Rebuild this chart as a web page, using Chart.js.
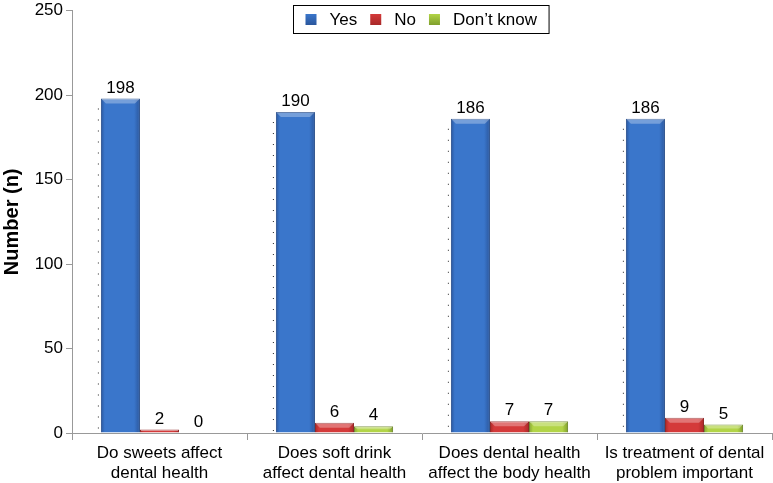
<!DOCTYPE html>
<html>
<head>
<meta charset="utf-8">
<script src="https://cdn.jsdelivr.net/npm/chart.js@4"></script>
<style>
  html, body { margin: 0; padding: 0; background: #fff; }
  #wrap { width: 773px; height: 483px; }
</style>
</head>
<body>
<div id="wrap"><canvas id="chart" width="773" height="483"></canvas></div>
<script>
// categories (two line labels)
const categories = [
  ['Do sweets affect', 'dental health'],
  ['Does soft drink', 'affect dental health'],
  ['Does dental health', 'affect the body health'],
  ['Is treatment of dental', 'problem important']
];
const yesValues = [198, 190, 186, 186];
const noValues = [2, 6, 7, 9];
const dontKnowValues = [0, 4, 7, 5];
const yTicks = [0, 50, 100, 150, 200, 250];

// dark / light / border for each series
const palette = [
  { dark: '#2a569c', light: '#3a76cb', border: '#234a88' },
  { dark: '#a82828', light: '#d43a3a', border: '#8a2020' },
  { dark: '#7f9f2c', light: '#b2d447', border: '#657f22' }
];

const font = 'Liberation Sans, Arial, sans-serif';

function barFill(ctx) {
  const p = palette[ctx.datasetIndex];
  const meta = ctx.chart.getDatasetMeta(ctx.datasetIndex);
  const el = meta.data[ctx.dataIndex];
  if (!el || el.x === undefined || isNaN(el.x)) return p.light;
  const g = ctx.chart.ctx.createLinearGradient(el.x - el.width / 2, 0, el.x + el.width / 2, 0);
  g.addColorStop(0, p.dark);
  g.addColorStop(0.1, p.light);
  g.addColorStop(0.85, p.light);
  g.addColorStop(1, p.dark);
  return g;
}

// value labels above bars + bevel top + dotted line left of Yes bars
const barExtras = {
  id: 'barExtras',
  afterDatasetsDraw(chart) {
    const c = chart.ctx;
    chart.data.datasets.forEach((ds, di) => {
      const meta = chart.getDatasetMeta(di);
      meta.data.forEach((el, i) => {
        const left = el.x - el.width / 2;
        const h = el.base - el.y;
        // top bevel highlight
        if (h > 2) {
          c.save();
          c.fillStyle = 'rgba(255,255,255,0.3)';
          c.beginPath();
          const b = Math.min(5, h / 2);
          c.moveTo(left, el.y);
          c.lineTo(left + el.width, el.y);
          c.lineTo(left + el.width - b, el.y + b);
          c.lineTo(left + b, el.y + b);
          c.closePath();
          c.fill();
          c.restore();
        }
        if (di === 0) {
          c.save();
          c.fillStyle = '#222';
          for (let y = el.y + 10; y < el.base - 2; y += 11) {
            c.fillRect(left - 3, y, 1, 1);
          }
          c.restore();
        }
        c.save();
        c.font = '17px ' + font;
        c.fillStyle = '#000';
        c.textAlign = 'center';
        c.textBaseline = 'bottom';
        c.fillText(String(ds.data[i]), el.x, el.y - 2);
        c.restore();
      });
    });
  }
};

// boxed legend drawn over the top of the plot
const boxLegend = {
  id: 'boxLegend',
  afterDraw(chart) {
    const c = chart.ctx;
    c.save();
    c.font = '17px ' + font;
    const sq = 11, gapText = 13, gapItem = 13, padX = 12;
    let total = padX * 2;
    const items = chart.data.datasets.map((ds, i) => {
      const w = c.measureText(ds.label).width;
      total += sq + gapText + w + (i < chart.data.datasets.length - 1 ? gapItem : 0);
      return { label: ds.label, w: w, p: palette[i] };
    });
    const area = chart.chartArea;
    const x0 = Math.round((area.left + area.right) / 2 - total / 2) - 0.5;
    const top = 5.5, hgt = 28;
    c.fillStyle = '#fff';
    c.fillRect(x0, top, total, hgt);
    c.strokeStyle = '#000';
    c.lineWidth = 1;
    c.strokeRect(x0, top, total, hgt);
    let x = x0 + padX;
    const cy = top + hgt / 2;
    items.forEach(it => {
      const g = c.createLinearGradient(0, cy - sq / 2, 0, cy + sq / 2);
      g.addColorStop(0, it.p.light);
      g.addColorStop(1, it.p.dark);
      c.fillStyle = g;
      c.fillRect(x, cy - sq / 2, sq, sq);
      x += sq + gapText;
      c.fillStyle = '#000';
      c.textBaseline = 'middle';
      c.fillText(it.label, x, cy + 1);
      x += it.w + gapItem;
    });
    c.restore();
  }
};

const chart = new Chart(document.getElementById('chart'), {
  type: 'bar',
  data: {
    labels: categories,
    datasets: [
      { label: 'Yes', data: yesValues },
      { label: 'No', data: noValues },
      { label: 'Don\u2019t know', data: dontKnowValues }
    ].map((d, i) => Object.assign(d, {
      backgroundColor: barFill,
      borderColor: palette[i].border,
      borderWidth: 1,
      categoryPercentage: 0.67,
      barPercentage: 1
    }))
  },
  options: {
    responsive: false,
    animation: false,
    layout: { padding: { top: 0, right: 1, left: 0, bottom: 0 } },
    plugins: {
      legend: { display: false },
      tooltip: { enabled: false }
    },
    scales: {
      x: {
        grid: { display: true, drawOnChartArea: false, tickLength: 7, color: '#999', offset: true },
        border: { color: '#999' },
        ticks: { color: '#000', font: { family: font, size: 17, lineHeight: 1.18 }, padding: 3, maxRotation: 0, autoSkip: false },
        afterFit(scale) { scale.height = 50; }
      },
      y: {
        min: 0,
        max: 250,
        afterBuildTicks(scale) { scale.ticks = yTicks.map(v => ({ value: v })); },
        grid: { display: true, drawOnChartArea: false, tickLength: 6, color: '#999' },
        border: { color: '#999' },
        ticks: { color: '#000', font: { family: font, size: 17, lineHeight: 0.9 }, padding: 3 },
        title: { display: true, text: 'Number (n)', color: '#000', font: { family: font, size: 20, weight: 'bold' }, padding: 0 },
        afterFit(scale) { scale.width = 72; }
      }
    }
  },
  plugins: [barExtras, boxLegend]
});
// second pass so the gradients know where each bar sits
chart.update('none');
</script>
</body>
</html>
